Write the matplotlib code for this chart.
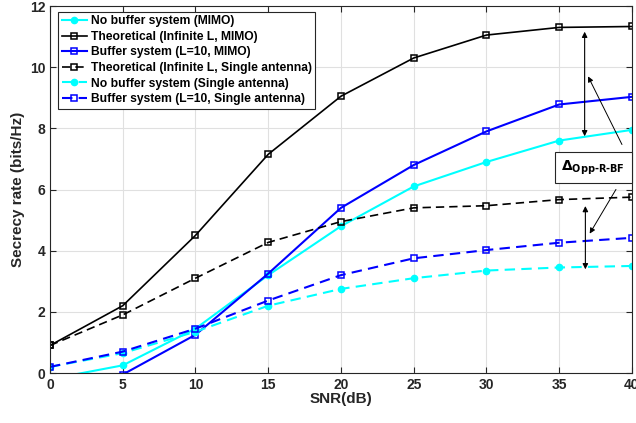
import numpy as np
import matplotlib
matplotlib.use('Agg')
import matplotlib.pyplot as plt

plt.rcParams['font.family'] = ['Liberation Sans', 'DejaVu Sans']
plt.rcParams['font.weight'] = 'bold'

# SNR points (dB)
snr = [0, 5, 10, 15, 20, 25, 30, 35, 40]

# secrecy rate (bits/Hz)
nobuf_mimo = [-0.2, 0.25, 1.45, 3.2, 4.8, 6.1, 6.9, 7.6, 7.95]
theo_mimo = [0.9, 2.2, 4.5, 7.15, 9.05, 10.3, 11.05, 11.3, 11.33]
buf_mimo = [-1.5, -0.05, 1.25, 3.25, 5.4, 6.8, 7.9, 8.78, 9.03]
theo_single = [0.9, 1.9, 3.1, 4.27, 4.95, 5.4, 5.47, 5.67, 5.75]
nobuf_single = [0.2, 0.65, 1.35, 2.2, 2.75, 3.1, 3.35, 3.45, 3.5]
buf_single = [0.2, 0.7, 1.45, 2.37, 3.2, 3.75, 4.02, 4.26, 4.42]

labels = ['No buffer system (MIMO)',
          'Theoretical (Infinite L, MIMO)',
          'Buffer system (L=10, MIMO)',
          'Theoretical (Infinite L, Single antenna)',
          'No buffer system (Single antenna)',
          'Buffer system (L=10, Single antenna)']

fig = plt.figure(figsize=(6.36, 4.23), dpi=100)
ax = fig.add_axes([0.0786, 0.1182, 0.915, 0.8676])

sq = dict(marker='s', markersize=5, markerfacecolor='none', markeredgewidth=1.1)
dot = dict(marker='o', markersize=4.5)
dash = (5, 3)

ax.plot(snr, nobuf_mimo, '-', color='cyan', lw=1.5, label=labels[0], **dot)
ax.plot(snr, theo_mimo, '-', color='black', lw=1.2, label=labels[1], **sq)
ax.plot(snr, buf_mimo, '-', color='blue', lw=1.5, label=labels[2], **sq)
ax.plot(snr, theo_single, '--', color='black', lw=1.2, dashes=dash, label=labels[3], **sq)
ax.plot(snr, nobuf_single, '--', color='cyan', lw=1.5, dashes=dash, label=labels[4], **dot)
ax.plot(snr, buf_single, '--', color='blue', lw=1.5, dashes=dash, label=labels[5], **sq)

ax.set_xlim(0, 40)
ax.set_ylim(0, 12)
ax.set_xticks(range(0, 41, 5))
ax.set_yticks(range(0, 13, 2))
ax.grid(True, color='#e0e0e0', lw=0.8)
ax.tick_params(direction='in', top=True, right=True, labelsize=10, length=4,
               colors='#262626')
for s in ax.spines.values():
    s.set_color('#262626')
ax.set_xlabel('SNR(dB)', fontsize=11, fontweight='bold', labelpad=0, color='#262626')
ax.set_ylabel('Secrecy rate (bits/Hz)', fontsize=11, fontweight='bold', labelpad=3,
              color='#262626')

leg = ax.legend(loc='upper left', bbox_to_anchor=(0.014, 0.985), fontsize=8.7,
                handlelength=2.1, handletextpad=0.3, labelspacing=0.3,
                borderpad=0.3, borderaxespad=0, fancybox=False, framealpha=1)
leg.get_frame().set_edgecolor('#262626')
leg.get_frame().set_linewidth(0.8)

# gap arrows
ax.annotate('', xy=(36.75, 11.25), xytext=(36.75, 7.65),
            arrowprops=dict(arrowstyle='<|-|>', color='black', lw=0.8, mutation_scale=8))
ax.annotate('', xy=(36.8, 5.55), xytext=(36.8, 3.3),
            arrowprops=dict(arrowstyle='<|-|>', color='black', lw=0.8, mutation_scale=8))
ax.text(37.35, 6.72, r'$\Delta_{\mathbf{Opp\text{-}R\text{-}BF}}$', ha='center', va='center',
        fontsize=10, bbox=dict(boxstyle='square,pad=0.45', fc='white', ec='#262626', lw=0.8))
ax.annotate('', xy=(36.9, 9.78), xytext=(39.4, 7.39),
            arrowprops=dict(arrowstyle='-|>', color='black', lw=0.7, mutation_scale=8))
ax.annotate('', xy=(37.0, 4.48), xytext=(39.0, 6.08),
            arrowprops=dict(arrowstyle='-|>', color='black', lw=0.7, mutation_scale=8))

fig.savefig('out.png', dpi=100)
